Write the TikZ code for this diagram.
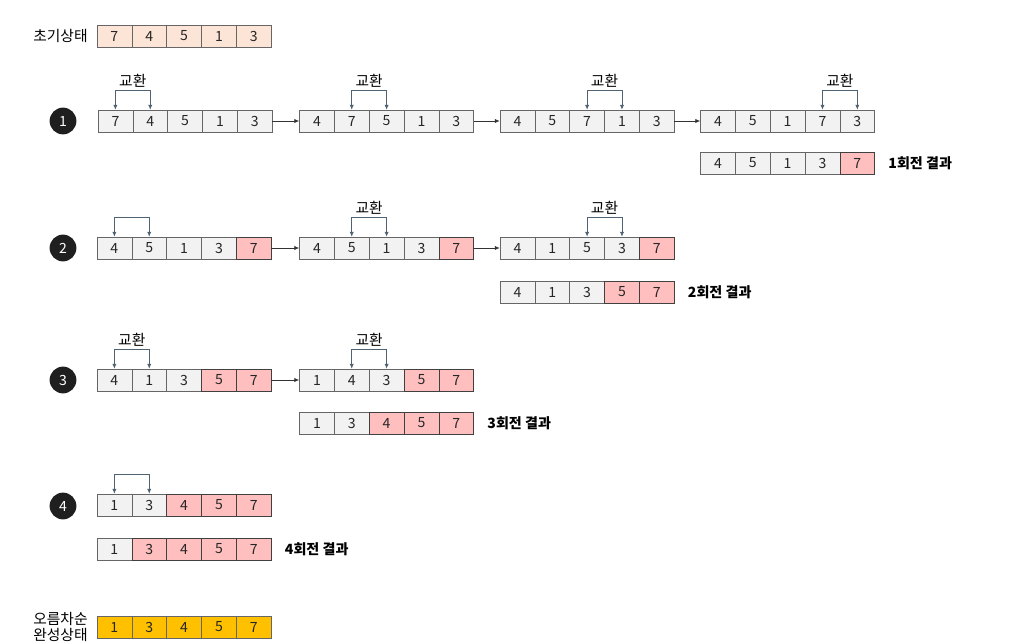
\documentclass[tikz,border=0pt]{standalone}
\usepackage{fontspec}
\setmainfont{Noto Sans CJK KR}
\usetikzlibrary{arrows.meta,calc,positioning}
\definecolor{grisclaro}{HTML}{F2F2F2}
\definecolor{rosa}{HTML}{FFBFBF}
\definecolor{durazno}{HTML}{FCE4D6}
\definecolor{oro}{HTML}{FFC000}
\definecolor{pizarra}{HTML}{4F6272}
\tikzset{
  semithin/.style={line width=0.5pt},
  celda/.style={
    draw=black!60,
    fill=grisclaro,
    minimum width=.87cm,
    minimum height=.55cm,
    inner sep=0pt,
    text=black!85,
    font=\fontsize{10}{12}\selectfont
  },
  fija/.style={celda, fill=rosa, draw=black!75},
  inicio/.style={celda, fill=durazno},
  final/.style={celda, fill=oro},
  ronda/.style={
    circle,
    fill=black!88,
    text=white,
    minimum size=.67cm,
    inner sep=0pt,
    font=\fontsize{10}{12}\selectfont
  },
  etiq/.style={inner sep=0pt, font=\fontsize{10.5}{12}\selectfont},
  resul/.style={inner sep=0pt, font=\fontsize{10}{12}\selectfont\bfseries},
  paso/.style={-{Latex[length=3.5pt,width=3pt]}, black!80, semithin},
  cambio/.style={{Latex[length=3.5pt,width=3pt]}-{Latex[length=3.5pt,width=3pt]}, pizarra, semithin}
}
% fila de 5 celdas: nombre, x, y, lista valor/estilo
\newcommand{\fila}[4]{%
  \foreach \v/\s [count=\i] in {#4}
    \node[\s] (#1-\i) at ({#2+17.4+(\i-1)*34.85},#3) {\v};
}

\begin{document}
\begin{tikzpicture}[x=0.025cm,y=-0.025cm]
\useasboundingbox (0,0) rectangle (1016,642);

% estado inicial
\fila{ini}{97}{36}{7/inicio,4/inicio,5/inicio,1/inicio,3/inicio}
\node[etiq, left=.22cm of ini-1] (tini) {초기상태};

% ronda 1
\node[ronda] (n1) at (63,121) {1};
\fila{r1a}{98}{121}{7/celda,4/celda,5/celda,1/celda,3/celda}
\fila{r1b}{299.5}{121}{4/celda,7/celda,5/celda,1/celda,3/celda}
\fila{r1c}{500}{121}{4/celda,5/celda,7/celda,1/celda,3/celda}
\fila{r1d}{700.5}{121}{4/celda,5/celda,1/celda,7/celda,3/celda}
\fila{r1r}{700.5}{163}{4/celda,5/celda,1/celda,3/celda,7/fija}
\node[resul, anchor=west, right=.33cm of r1r-5] (t1) {1회전 결과};

% ronda 2
\node[ronda] (n2) at (63,248) {2};
\fila{r2a}{97}{248}{4/celda,5/celda,1/celda,3/celda,7/fija}
\fila{r2b}{299.5}{248}{4/celda,5/celda,1/celda,3/celda,7/fija}
\fila{r2c}{500}{248}{4/celda,1/celda,5/celda,3/celda,7/fija}
\fila{r2r}{500}{292}{4/celda,1/celda,3/celda,5/fija,7/fija}
\node[resul, anchor=west, right=.33cm of r2r-5] (t2) {2회전 결과};

% ronda 3
\node[ronda] (n3) at (63,380) {3};
\fila{r3a}{97}{380}{4/celda,1/celda,3/celda,5/fija,7/fija}
\fila{r3b}{299.5}{380}{1/celda,4/celda,3/celda,5/fija,7/fija}
\fila{r3r}{299.5}{423}{1/celda,3/celda,4/fija,5/fija,7/fija}
\node[resul, anchor=west, right=.33cm of r3r-5] (t3) {3회전 결과};

% ronda 4
\node[ronda] (n4) at (63,506) {4};
\fila{r4a}{97}{505}{1/celda,3/celda,4/fija,5/fija,7/fija}
\fila{r4r}{97}{549}{1/celda,3/fija,4/fija,5/fija,7/fija}
\node[resul, anchor=west, right=.33cm of r4r-5] (t4) {4회전 결과};

% estado final
\fila{fin}{97}{627}{1/final,3/final,4/final,5/final,7/final}
\node[etiq, align=center, font=\fontsize{10.5}{11.5}\selectfont, left=.22cm of fin-1] (tfin) {오름차순\\완성상태};

% flechas entre pasos
\foreach \p/\q in {r1a/r1b,r1b/r1c,r1c/r1d,r2a/r2b,r2b/r2c,r3a/r3b}
  \draw[paso] (\p-5.east) -- (\q-1.west);

% intercambios
\foreach \a/\i/\j in {r1a/1/2,r1b/2/3,r1c/3/4,r1d/4/5,r2a/1/2,r2b/2/3,r2c/3/4,r3a/1/2,r3b/2/3,r4a/1/2}
  \draw[cambio] (\a-\i.north) -- ++(0,-19) -| (\a-\j.north);
\foreach \a/\i/\j in {r1a/1/2,r1b/2/3,r1c/3/4,r1d/4/5,r2b/2/3,r2c/3/4,r3a/1/2,r3b/2/3}
  \node[etiq] (\a-t) at ($(\a-\i.north)!.5!(\a-\j.north)+(0,-29)$) {교환};
\end{tikzpicture}
\end{document}
